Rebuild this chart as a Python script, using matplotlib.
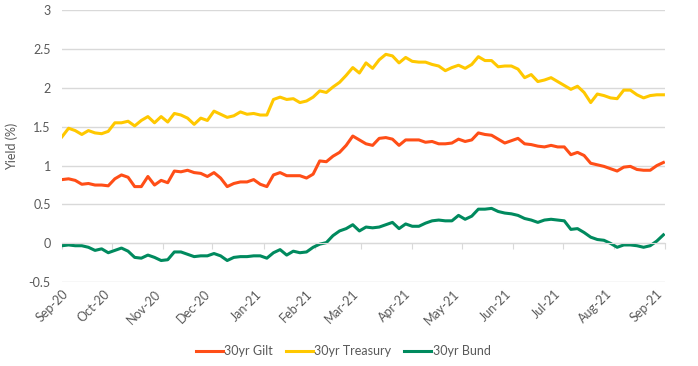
import matplotlib
matplotlib.use("Agg")
import matplotlib.pyplot as plt
import matplotlib.dates as mdates
import numpy as np
import pandas as pd

# sample dates: every 4 days from 1 Sep 2020
dates = pd.Timestamp("2020-09-01") + pd.to_timedelta(np.arange(0, 365, 4), unit="D")

gilt = [0.82, 0.83, 0.81, 0.76, 0.77, 0.75, 0.75, 0.74, 0.83, 0.88, 0.85, 0.73, 0.73,
        0.86, 0.75, 0.81, 0.78, 0.93, 0.92, 0.94, 0.91, 0.90, 0.86, 0.91, 0.84, 0.73,
        0.77, 0.79, 0.79, 0.82, 0.76, 0.73, 0.88, 0.91, 0.87, 0.87, 0.87, 0.84, 0.89,
        1.06, 1.05, 1.12, 1.17, 1.26, 1.38, 1.33, 1.28, 1.26, 1.35, 1.36, 1.34, 1.26,
        1.33, 1.33, 1.33, 1.30, 1.31, 1.28, 1.28, 1.29, 1.34, 1.31, 1.33, 1.42, 1.40,
        1.39, 1.34, 1.29, 1.32, 1.35, 1.28, 1.27, 1.25, 1.24, 1.26, 1.24, 1.24, 1.14,
        1.17, 1.13, 1.03, 1.01, 0.99, 0.96, 0.93, 0.98, 0.99, 0.95, 0.94, 0.94, 1.00,
        1.04]

treasury = [1.37, 1.48, 1.45, 1.40, 1.45, 1.42, 1.41, 1.44, 1.55, 1.55, 1.57, 1.51, 1.58,
            1.63, 1.55, 1.63, 1.56, 1.67, 1.65, 1.61, 1.53, 1.61, 1.58, 1.70, 1.66, 1.62,
            1.64, 1.69, 1.66, 1.67, 1.65, 1.65, 1.85, 1.88, 1.85, 1.86, 1.81, 1.83, 1.88,
            1.96, 1.94, 2.01, 2.07, 2.16, 2.26, 2.19, 2.32, 2.25, 2.36, 2.43, 2.41, 2.32,
            2.39, 2.34, 2.33, 2.33, 2.30, 2.28, 2.22, 2.26, 2.29, 2.25, 2.30, 2.40, 2.35,
            2.35, 2.27, 2.28, 2.28, 2.24, 2.13, 2.17, 2.08, 2.10, 2.13, 2.08, 2.03, 1.98,
            2.02, 1.94, 1.81, 1.92, 1.90, 1.87, 1.86, 1.97, 1.97, 1.91, 1.87, 1.90, 1.91,
            1.91]

bund = [-0.03, -0.02, -0.03, -0.03, -0.05, -0.09, -0.07, -0.12, -0.09, -0.06, -0.10, -0.18,
        -0.19, -0.15, -0.18, -0.22, -0.21, -0.11, -0.11, -0.14, -0.17, -0.16, -0.16, -0.13,
        -0.16, -0.22, -0.18, -0.17, -0.17, -0.16, -0.16, -0.19, -0.12, -0.08, -0.15, -0.10,
        -0.12, -0.11, -0.05, -0.01, 0.01, 0.10, 0.16, 0.19, 0.24, 0.16, 0.21, 0.20, 0.21,
        0.24, 0.27, 0.19, 0.25, 0.22, 0.22, 0.26, 0.29, 0.30, 0.29, 0.29, 0.36, 0.31, 0.35,
        0.44, 0.44, 0.45, 0.41, 0.39, 0.38, 0.36, 0.32, 0.30, 0.27, 0.30, 0.31, 0.30, 0.29,
        0.18, 0.19, 0.14, 0.08, 0.05, 0.04, 0.00, -0.05, -0.02, -0.02, -0.03, -0.05, -0.03,
        0.03, 0.11]

series = [("30yr Gilt", gilt, "#FF4E17"),
          ("30yr Treasury", treasury, "#FFC800"),
          ("30yr Bund", bund, "#008A5E")]

yticks = [-0.5, 0, 0.5, 1, 1.5, 2, 2.5, 3]
ytick_labels = ["-0.5", "0", "0.5", "1", "1.5", "2", "2.5", "3"]

plt.rcParams["font.family"] = ["Lato", "DejaVu Sans"]
text_col = "#595959"
grid_col = "#D9D9D9"

fig = plt.figure(figsize=(6.98, 3.66), dpi=100)
ax = fig.add_axes([0.0888, 0.2287, 0.864, 0.744])

for name, vals, col in series:
    ax.plot(dates, vals, color=col, lw=2.2, label=name, solid_joinstyle="round")

ax.set_xlim(pd.Timestamp("2020-09-01"), pd.Timestamp("2021-09-01"))
ax.set_ylim(-0.5, 3)
ax.set_yticks(yticks)
ax.set_yticklabels(ytick_labels)
ax.yaxis.grid(True, color=grid_col, lw=1)
ax.set_axisbelow(True)
for s in ["top", "right", "left"]:
    ax.spines[s].set_visible(False)

# horizontal axis line sits at zero with short month ticks
ax.spines["bottom"].set_position(("data", 0))
ax.spines["bottom"].set_color(grid_col)
ax.xaxis.set_major_locator(mdates.MonthLocator())
ax.tick_params(axis="x", direction="out", length=4, color=grid_col, labelbottom=False)
ax.tick_params(axis="y", length=0, pad=8, labelsize=9, labelcolor=text_col)

# month labels below the plot
sec = ax.secondary_xaxis(0.0)
sec.xaxis.set_major_locator(mdates.MonthLocator())
sec.xaxis.set_major_formatter(mdates.DateFormatter("%b-%y"))
sec.spines["bottom"].set_visible(False)
sec.tick_params(length=0, pad=4, labelsize=9, labelcolor=text_col)
for lbl in sec.get_xticklabels():
    lbl.set_rotation(45)
    lbl.set_ha("right")
    lbl.set_rotation_mode("anchor")

ax.set_ylabel("Yield (%)", color=text_col, fontsize=9, labelpad=8)

fig.legend(loc="center", bbox_to_anchor=(343 / 698, 1 - 351 / 366), ncol=3,
           frameon=False, fontsize=9, handlelength=2.2, columnspacing=1.0,
           handletextpad=0.1, labelcolor=text_col)

fig.savefig("out.png", dpi=100)
